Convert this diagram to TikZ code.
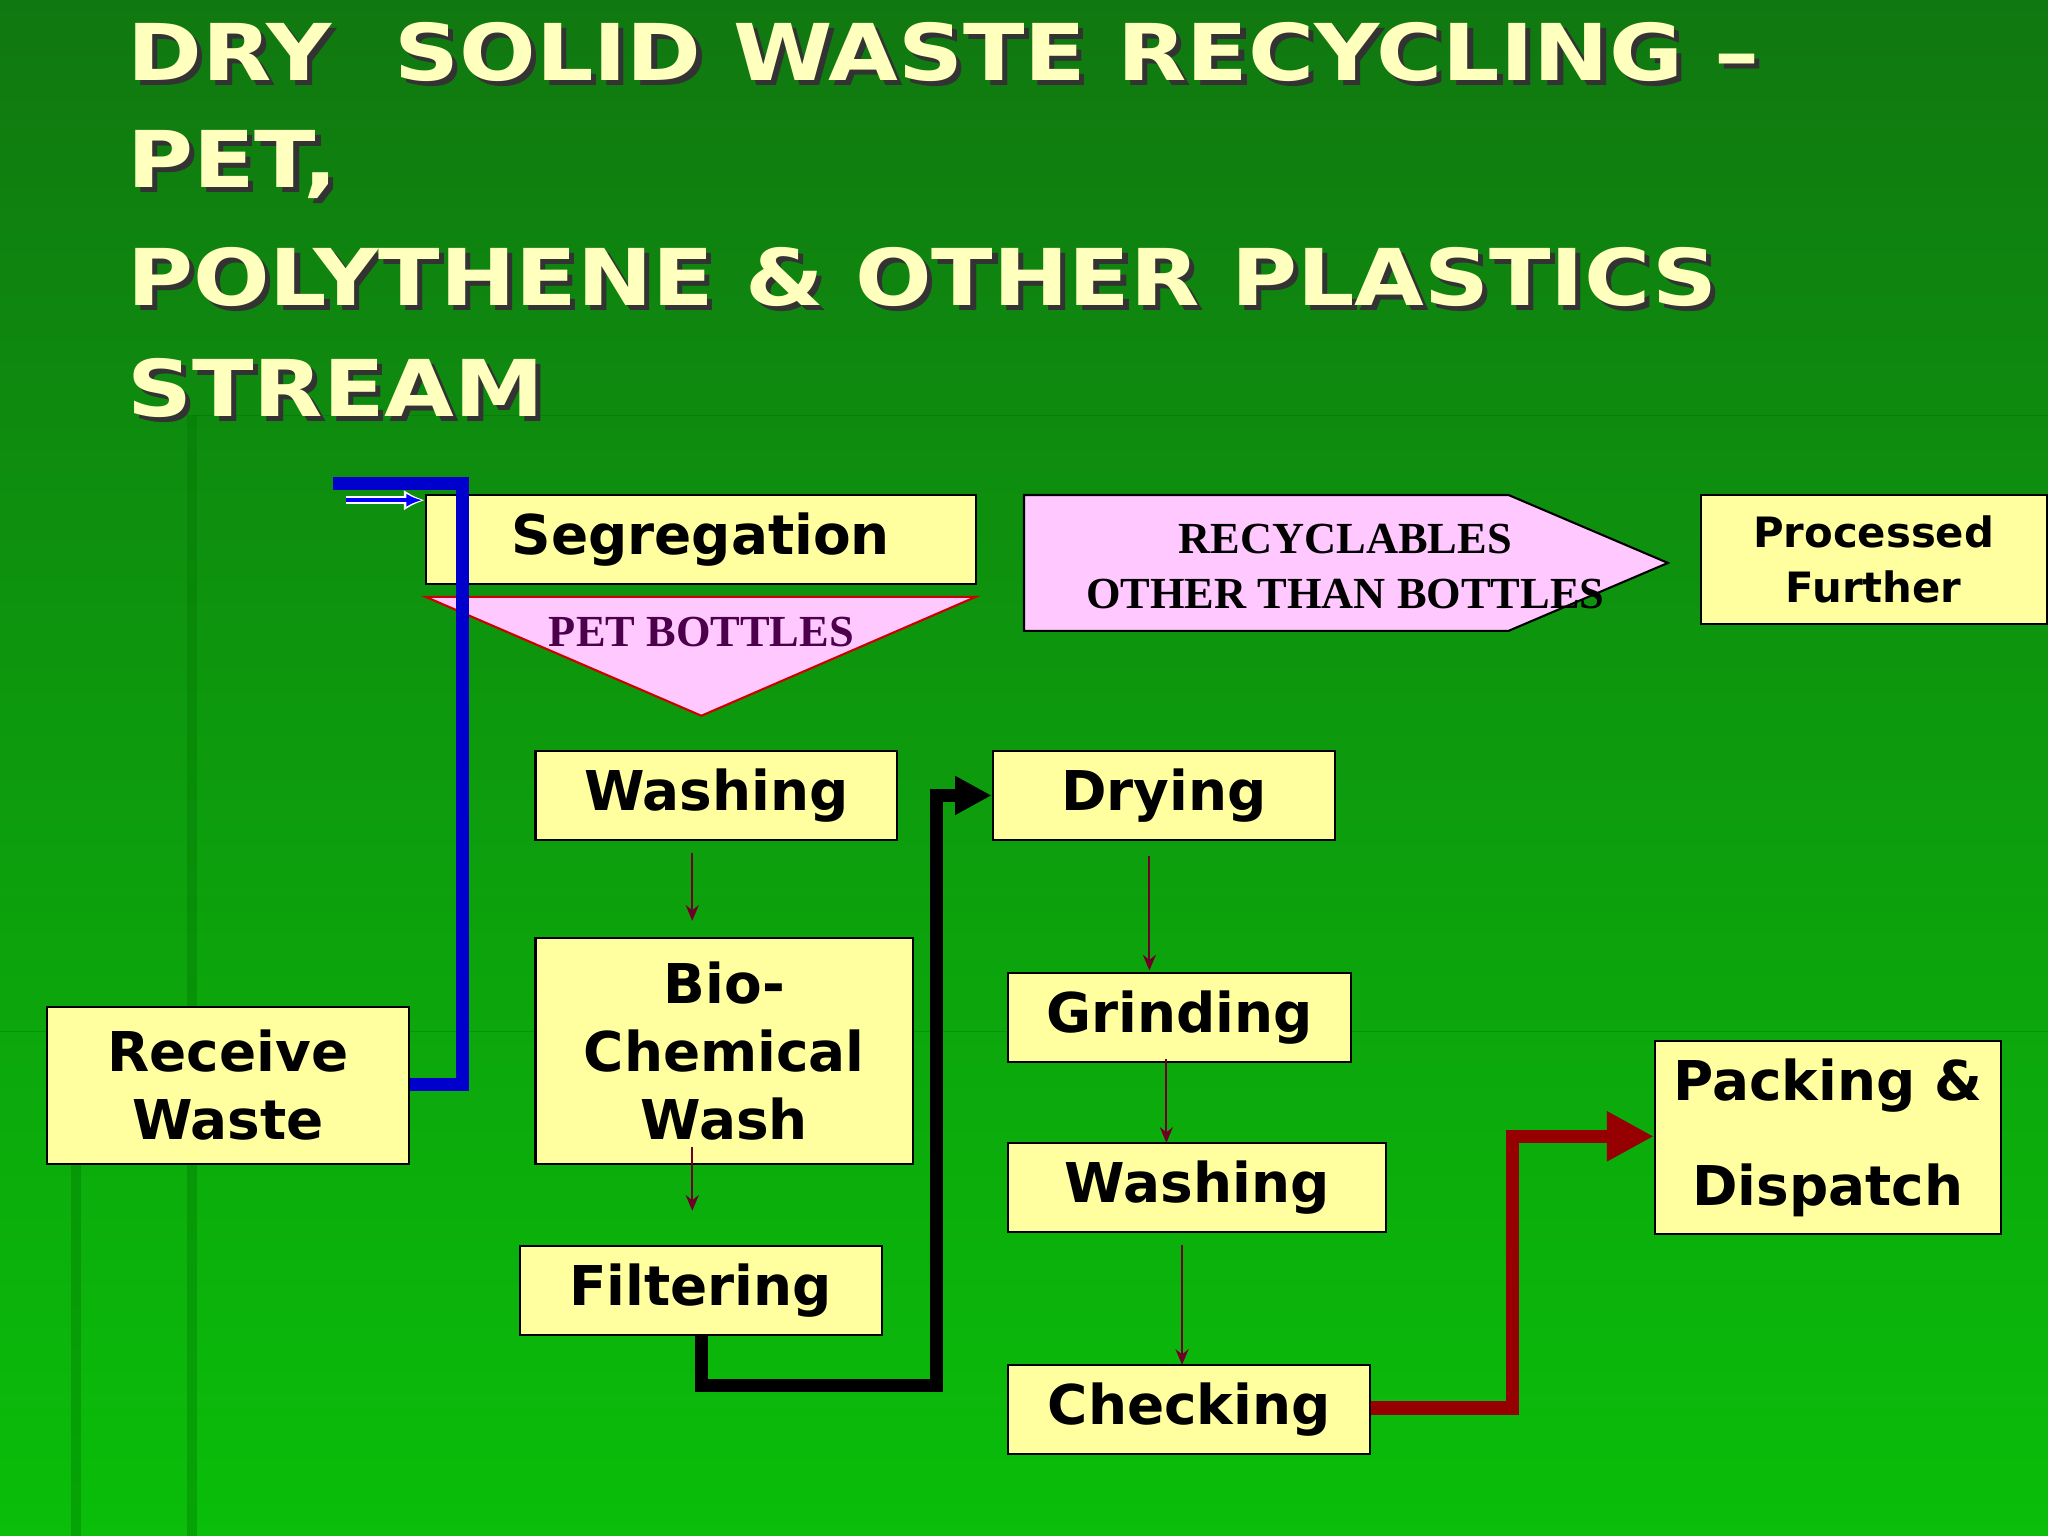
\documentclass[tikz,border=0pt]{standalone}
\usepackage{fontspec}
\setmainfont{DejaVu Sans}
\newfontfamily\serifb{Liberation Serif}
\usetikzlibrary{arrows.meta}
\definecolor{bgtop}{RGB}{16,120,16}
\definecolor{bgbot}{RGB}{10,190,10}
\definecolor{boxy}{RGB}{255,255,160}
\definecolor{pinkf}{RGB}{255,200,255}
\definecolor{ttl}{RGB}{255,255,190}
\definecolor{dred}{RGB}{150,0,0}
\definecolor{thinr}{RGB}{110,0,40}
\begin{document}
\begin{tikzpicture}[x=0.5pt,y=-0.5pt,
 box/.style={draw=black,fill=boxy,line width=0.8pt,inner sep=0pt,align=center,font=\bfseries\fontsize{21}{28}\selectfont},
 ttlt/.style={anchor=west,inner sep=0pt,font=\bfseries\fontsize{30}{36}\selectfont,text=ttl,xscale=1.15},
 thin/.style={draw=thinr,line width=0.8pt,-{Stealth[length=6pt,width=5pt]}},
 fat/.style={line width=5pt}]
\useasboundingbox (0,0) rectangle (1568,1176);
\shade[top color=bgtop,bottom color=bgbot] (0,0) rectangle (1568,1176);
\fill[green!45!black,opacity=0.35] (143,318) rectangle (151,1176);
\fill[green!45!black,opacity=0.35] (54,891) rectangle (62,1176);
\draw[green!40!black,opacity=0.3] (147,318) -- (1568,318);
\draw[green!40!black,opacity=0.3] (0,790) -- (1568,790);
% title
\foreach \t/\y [count=\i] in {{DRY\ \ SOLID WASTE RECYCLING –}/40,{PET,}/126,{POLYTHENE \& OTHER PLASTICS}/212,{STREAM}/297}{
 \node[ttlt,text=black!80] (ts\i) at (101,\y+4) {\t};
 \node[ttlt] (t\i) at (97,\y) {\t};}
% nodes
\node[box,minimum width=421*0.5pt,minimum height=68*0.5pt] (seg) at (536.5,413) {Segregation};
\draw[draw=red!80!black,fill=pinkf,line width=0.8pt] (326,457) coordinate (tA) -- (747,457) -- (537,548) -- cycle;
\node[font=\serifb\bfseries\fontsize{17}{20}\selectfont,text=violet!60!black] (pet) at (537,484) {PET BOTTLES};
\draw[fill=pinkf,line width=0.8pt] (784,379) -- (1155,379) -- (1277,431) -- (1155,483) -- (784,483) -- cycle;
\node[font=\serifb\bfseries\fontsize{17}{21}\selectfont,align=center] (rec) at (1030,434) {RECYCLABLES\\OTHER THAN BOTTLES};
\node[box,minimum width=265*0.5pt,minimum height=99*0.5pt,font=\bfseries\fontsize{16}{21}\selectfont] (proc) at (1434.5,428.5) {Processed\\Further};
\node[box,minimum width=277*0.5pt,minimum height=68*0.5pt] (wash1) at (548.5,609) {Washing};
\node[box,minimum width=289*0.5pt,minimum height=173*0.5pt,font=\bfseries\fontsize{21}{26}\selectfont] (bio) at (554.5,804.5) {Bio-\\Chemical\\Wash};
\node[box,minimum width=277*0.5pt,minimum height=68*0.5pt] (filt) at (536.5,988) {Filtering};
\node[box,minimum width=262*0.5pt,minimum height=68*0.5pt] (dry) at (891,609) {Drying};
\node[box,minimum width=262*0.5pt,minimum height=68*0.5pt] (grind) at (903,779) {Grinding};
\node[box,minimum width=289*0.5pt,minimum height=68*0.5pt] (wash2) at (916.5,909) {Washing};
\node[box,minimum width=277*0.5pt,minimum height=68*0.5pt] (check) at (910.5,1079) {Checking};
\node[box,minimum width=277*0.5pt,minimum height=120*0.5pt,font=\bfseries\fontsize{21}{26}\selectfont] (recv) at (174.5,831) {Receive\\Waste};
\node[box,minimum width=265*0.5pt,minimum height=148*0.5pt,font=\bfseries\fontsize{21}{40}\selectfont] (pack) at (1399.5,871) {Packing \&\\Dispatch};
\coordinate (bt) at (255,370);
\coordinate (sa) at (265,383);
% connectors
\draw[blue!80!black,fat] (recv.east|-0,830) -| (354,370) -- (bt);
\draw[white,line width=3pt,-{Latex[length=8pt,width=8pt]}] (sa) -- (seg.west|-sa);
\draw[blue,line width=1.6pt,-{Latex[length=6pt,width=5pt]}] (sa) -- ([xshift=-1pt]seg.west|-sa);
\draw[thin] (530,653) -- (530,705);
\draw[thin] (530,878) -- (530,927);
\draw[thin] (880,655) -- (880,743);
\draw[thin] (893,811) -- (893,875);
\draw[thin] (905,953) -- (905,1045);
\draw[black,fat,-{Triangle[length=14pt,width=14pt]}] (filt.south-|537,0) -- (537,1061) -| (717,609) -- (dry.west|-0,609);
\draw[dred,fat,-{Triangle[length=18pt,width=18pt]}] (check.east|-0,1078) -- (1158,1078) |- (pack.west|-0,870);
\end{tikzpicture}
\end{document}
